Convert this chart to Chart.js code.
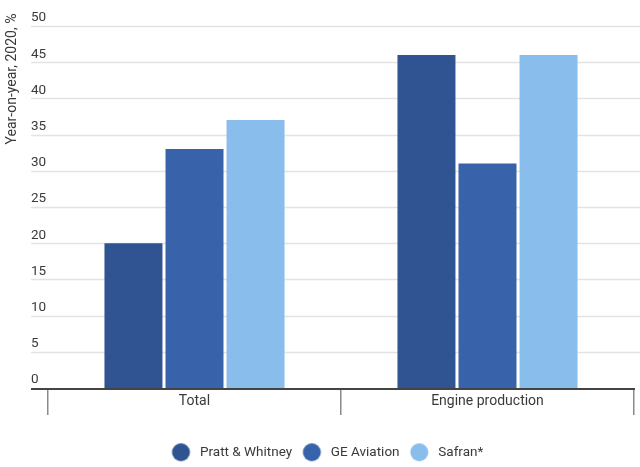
<!DOCTYPE html>
<html>
<head>
<meta charset="utf-8">
<script src="https://cdn.jsdelivr.net/npm/chart.js@4/dist/chart.umd.min.js"></script>
<style>
    html, body { margin: 0; padding: 0; background: #fff; }
    canvas { display: block; }
</style>
</head>
<body>
<canvas id="chart" width="640" height="467"></canvas>
<script>
// data
const categories = ['Total', 'Engine production'];
const seriesNames = ['Pratt & Whitney', 'GE Aviation', 'Safran*'];
const prattWhitney = [20, 46];
const geAviation = [33, 31];
const safran = [37, 46];
const yTicks = [0, 5, 10, 15, 20, 25, 30, 35, 40, 45, 50];
const yTitle = 'Year-on-year, 2020, %';

const seriesColors = ['#2f5491', '#3863ab', '#88bdec'];
const textColor = '#3a3a3a';

// legend dot drawn into a small canvas, shifted left so the text sits further away
function makeDot(color) {
    const c = document.createElement('canvas');
    c.width = 40;
    c.height = 20;
    const g = c.getContext('2d');
    g.fillStyle = color;
    g.beginPath();
    g.arc(14.5, 10, 9, 0, Math.PI * 2);
    g.fill();
    return c;
}
const dots = seriesColors.map(makeDot);

// horizontal grid lines, base line and the rotated y title
const decorPlugin = {
    id: 'decor',
    beforeDatasetsDraw(chart) {
        const { ctx, chartArea, scales: { y } } = chart;
        ctx.save();
        ctx.strokeStyle = '#e3e3e3';
        ctx.lineWidth = 1.5;
        y.ticks.forEach(t => {
            if (t.value === 0) return;
            const py = Math.round(y.getPixelForValue(t.value)) + 0.5;
            ctx.beginPath();
            ctx.moveTo(chartArea.left - 17, py);
            ctx.lineTo(chart.width, py);
            ctx.stroke();
        });
        ctx.restore();
    },
    afterDatasetsDraw(chart) {
        const { ctx, chartArea } = chart;
        ctx.save();
        ctx.strokeStyle = '#444';
        ctx.lineWidth = 2;
        ctx.beginPath();
        ctx.moveTo(chartArea.left - 17, chartArea.bottom + 1);
        ctx.lineTo(chartArea.right + 1, chartArea.bottom + 1);
        ctx.stroke();

        ctx.translate(12, 79);
        ctx.rotate(-Math.PI / 2);
        ctx.fillStyle = textColor;
        ctx.font = '14px Roboto';
        ctx.textAlign = 'center';
        ctx.textBaseline = 'middle';
        ctx.fillText(yTitle, 0, 0);
        ctx.restore();
    }
};

Chart.defaults.font.family = 'Roboto';

new Chart(document.getElementById('chart'), {
    type: 'bar',
    data: {
        labels: categories,
        datasets: [prattWhitney, geAviation, safran].map((values, i) => ({
            label: seriesNames[i],
            data: values,
            backgroundColor: seriesColors[i],
            borderWidth: 0,
            categoryPercentage: 0.625,
            barPercentage: 0.95
        }))
    },
    options: {
        responsive: false,
        animation: false,
        layout: { padding: { left: 29, right: 6, top: 26, bottom: -2 } },
        scales: {
            x: {
                offset: true,
                grid: {
                    offset: true,
                    drawOnChartArea: false,
                    drawTicks: true,
                    tickLength: 27,
                    color: '#8a8a8a',
                    lineWidth: 1.5
                },
                border: { display: false },
                ticks: {
                    padding: -22,
                    color: textColor,
                    font: { size: 14 }
                },
                afterFit(scale) { scale.height = 39; }
            },
            y: {
                min: 0,
                max: 50,
                afterBuildTicks(scale) { scale.ticks = yTicks.map(v => ({ value: v })); },
                grid: { display: false },
                border: { display: false },
                ticks: {
                    mirror: true,
                    padding: -17,
                    labelOffset: -8,
                    color: textColor,
                    font: { size: 13.5 }
                },
                afterFit(scale) { scale.width = 19; }
            }
        },
        plugins: {
            tooltip: { enabled: false },
            legend: {
                position: 'bottom',
                labels: {
                    usePointStyle: true,
                    boxWidth: 14,
                    boxHeight: 14,
                    padding: 18.5,
                    color: textColor,
                    font: { size: 13.5 },
                    generateLabels(chart) {
                        const items = Chart.defaults.plugins.legend.labels.generateLabels(chart);
                        items.forEach((item, i) => { item.pointStyle = dots[i]; });
                        return items;
                    }
                }
            }
        }
    },
    plugins: [decorPlugin]
});
</script>
</body>
</html>
